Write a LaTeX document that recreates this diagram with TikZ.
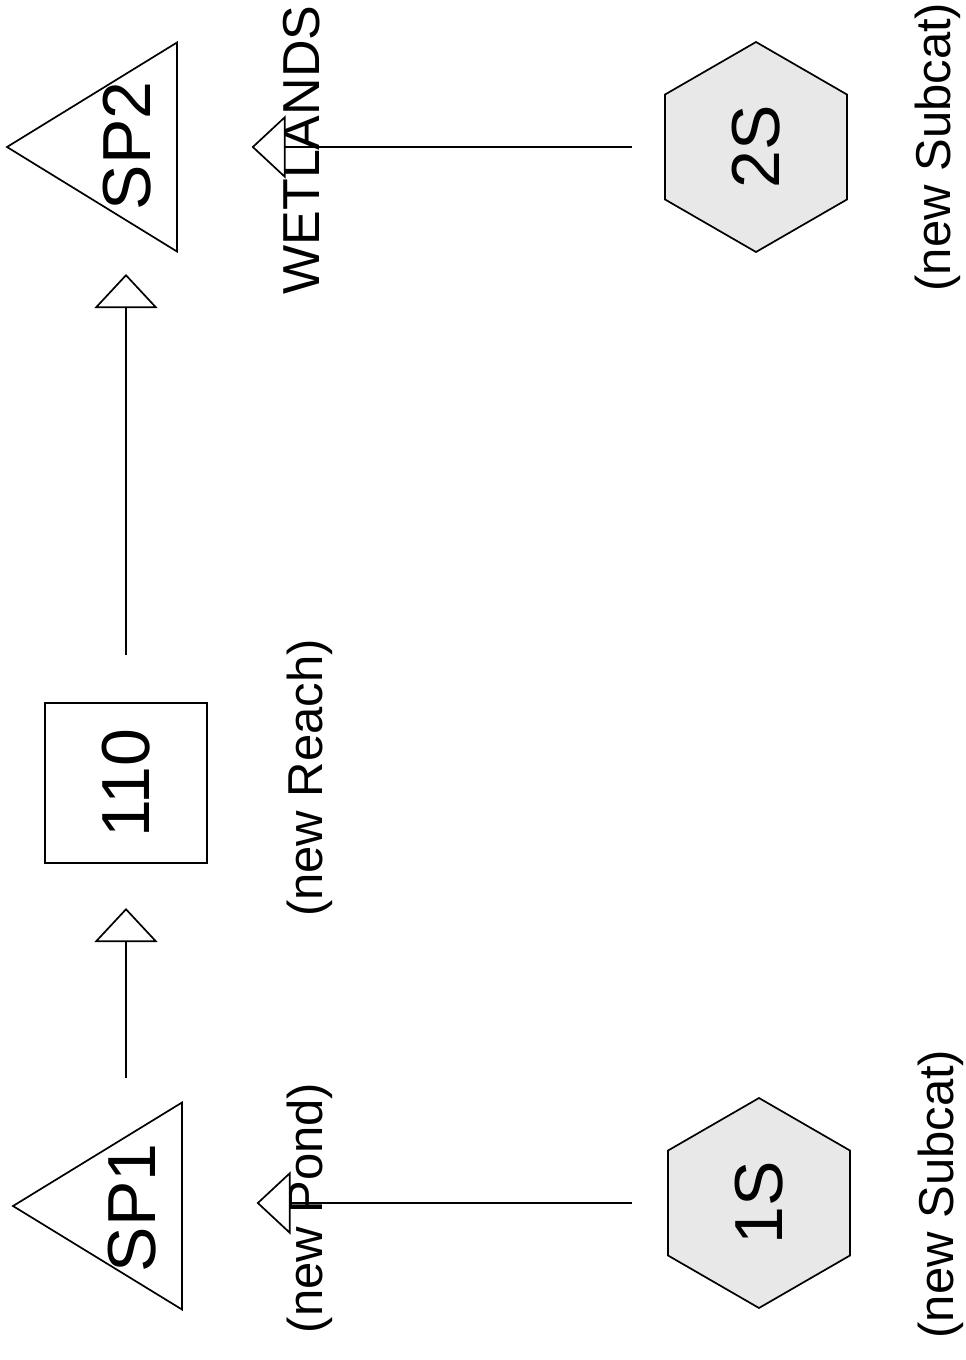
\documentclass[tikz,border=0pt]{standalone}
\usepackage{fontspec}
\setmainfont{Liberation Sans}
\usetikzlibrary{shapes.geometric,arrows.meta}
\tikzset{
  big/.style={font=\fontsize{68}{72}\selectfont, inner sep=0pt, outer sep=0pt},
  note/.style={font=\fontsize{49}{55}\selectfont, inner sep=0pt, outer sep=0pt, rotate=90, anchor=base},
  pond/.style={draw, line width=1.7pt, isosceles triangle, isosceles triangle stretches,
    shape border rotate=180, inner sep=0pt, outer sep=0pt, anchor=apex},
  reach/.style={draw, line width=1.7pt, rectangle, minimum width=162pt, minimum height=160pt,
    inner sep=0pt, outer sep=0pt, big},
  subcat/.style={draw, line width=1.7pt, fill=black!9, regular polygon, regular polygon sides=6,
    regular polygon rotate=30, minimum size=210pt, inner sep=0pt, outer sep=0pt, big},
  flow/.style={line width=2pt, -{Triangle[length=34pt, width=63pt, fill=white, line width=1.7pt]}}
}
\begin{document}
\begin{tikzpicture}[x=1pt, y=-1pt]
\useasboundingbox (0,0) rectangle (966,1360);
% ponds
\node[pond, minimum height=169pt, minimum width=207pt] (sp1) at (13,1206) {};
\node[pond, minimum height=170pt, minimum width=209pt] (sp2) at (7,147) {};
\node[big, rotate=90, anchor=base] (sp1lbl) at (155,1208) {SP1};
\node[big, rotate=90, anchor=base] (sp2lbl) at (150,146) {SP2};
% reach
\node[reach] (r110) at (126,783) {\rotatebox{90}{110}};
% subcatchments
\node[subcat] (s1) at (759,1203) {\rotatebox{90}{1S}};
\node[subcat] (s2) at (756,147) {\rotatebox{90}{2S}};
% notes
\node[note] (pondnote) at (322,1208) {(new Pond)};
\node[note] (reachnote) at (322,778) {(new Reach)};
\node[note, font=\fontsize{52}{58}\selectfont] (wetnote) at (319,150) {WETLANDS};
\node[note] (sub1note) at (953,1194) {(new Subcat)};
\node[note] (sub2note) at (950,147) {(new Subcat)};
% connectors
\draw[flow, shorten <=130pt, shorten >=125pt] (r110.center |- sp1lbl.center) -- (r110.center);
\draw[flow, shorten <=128pt, shorten >=128pt] (r110.center) -- (r110.center |- sp2lbl.center);
\draw[flow, shorten <=127pt, shorten >=125pt] (s1.center) -- (s1.center -| sp1lbl.center);
\draw[flow, shorten <=124pt, shorten >=125pt] (s2.center) -- (s2.center -| sp2lbl.center);
\end{tikzpicture}
\end{document}
